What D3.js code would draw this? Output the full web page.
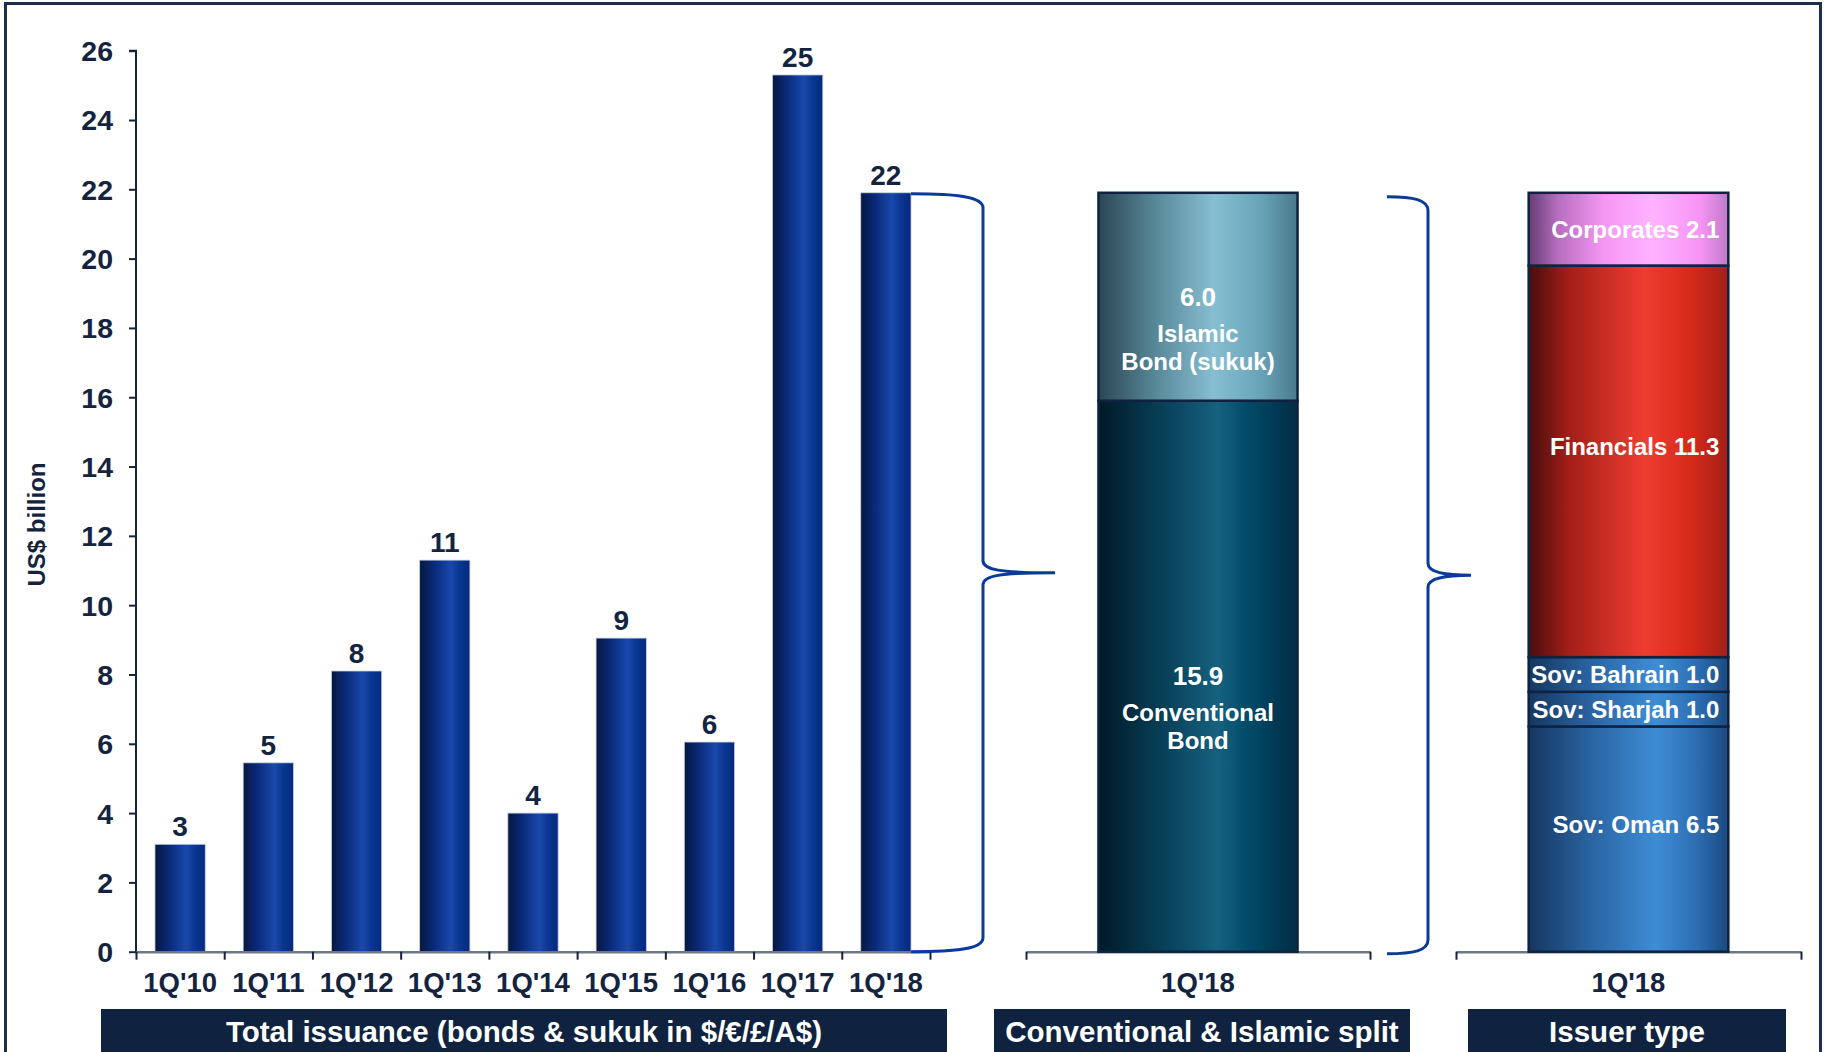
<!DOCTYPE html>
<html>
<head>
<meta charset="utf-8">
<script src="https://cdn.jsdelivr.net/npm/d3@7"></script>
<style>
  html, body { margin: 0; padding: 0; background: #ffffff; }
  svg { display: block; }
  text { font-family: "Liberation Sans", Arial, sans-serif; font-weight: bold; }
</style>
</head>
<body>
<svg id="chart" width="1825" height="1052"></svg>
<script>
// ---- data -------------------------------------------------------------
const quarters = ["1Q'10", "1Q'11", "1Q'12", "1Q'13", "1Q'14", "1Q'15", "1Q'16", "1Q'17", "1Q'18"];
const totalIssuance = [3.1, 5.45, 8.1, 11.3, 4.0, 9.05, 6.05, 25.3, 21.9];

const latestQuarter = ["1Q'18"];

const splitNames = [["Conventional", "Bond"], ["Islamic", "Bond (sukuk)"]];
const splitValues = [15.9, 6.0];
const splitKeys = ["conv", "islamic"];

const issuerNames = ["Sov: Oman", "Sov: Sharjah", "Sov: Bahrain", "Financials", "Corporates"];
const issuerValues = [6.5, 1.0, 1.0, 11.3, 2.1];
const issuerKeys = ["sov", "sov", "sov", "fin", "corp"];

const yTicks = [0, 2, 4, 6, 8, 10, 12, 14, 16, 18, 20, 22, 24, 26];

const panelTitles = ["Total issuance (bonds & sukuk in $/€/£/A$)", "Conventional & Islamic split", "Issuer type"];
const yTitle = "US$ billion";

// ---- setup ------------------------------------------------------------
const svg = d3.select("#chart");
const ink = "#14243f";
const navy = "#0f2340";
const braceBlue = "#0a3a9a";

// outer frame
svg.append("rect")
  .attr("x", 5.5).attr("y", 3.5).attr("width", 1815).attr("height", 1070)
  .attr("fill", "none").attr("stroke", "#1c2d4d").attr("stroke-width", 3);

// horizontal gradients giving the bars their cylindrical shading
const defs = svg.append("defs");
function gradient(id, stops) {
  const g = defs.append("linearGradient").attr("id", id)
    .attr("x1", "0%").attr("x2", "100%").attr("y1", "0%").attr("y2", "0%");
  stops.forEach(([o, c]) => g.append("stop").attr("offset", o).attr("stop-color", c));
}
gradient("g-total", [["0%", "#07183f"], ["30%", "#0a2b7c"], ["62%", "#1849ab"], ["78%", "#0b3894"], ["100%", "#042a7c"]]);
gradient("g-conv", [["0%", "#001a28"], ["38%", "#0a465f"], ["60%", "#16617f"], ["76%", "#004a68"], ["100%", "#022c44"]]);
gradient("g-islamic", [["0%", "#2c4653"], ["30%", "#5a8b9b"], ["58%", "#86bed1"], ["80%", "#6aa6bb"], ["100%", "#4a7a8b"]]);
gradient("g-corp", [["0%", "#663c72"], ["15%", "#b86fc0"], ["38%", "#f597f5"], ["62%", "#ffb3ff"], ["86%", "#f594f5"], ["100%", "#c07ac6"]]);
gradient("g-fin", [["0%", "#480d0d"], ["20%", "#a11f18"], ["58%", "#ee3d31"], ["80%", "#d82a1a"], ["100%", "#a32018"]]);
gradient("g-sov", [["0%", "#15375f"], ["30%", "#2a62a0"], ["64%", "#3e8dd5"], ["85%", "#2c6cb0"], ["100%", "#1a4a80"]]);

// shared value scale for all three panels
const y = d3.scaleLinear().domain([0, 26]).range([951.7, 50.7]);

// ---- panel 1: total issuance -----------------------------------------
const x1 = d3.scaleBand().domain(quarters).range([136, 930]).paddingInner(0.43).paddingOuter(0.215);

const yAxis = svg.append("g").attr("transform", "translate(136,0)")
  .call(d3.axisLeft(y).tickValues(yTicks).tickSize(7).tickPadding(16));
yAxis.select(".domain").attr("stroke", ink).attr("stroke-width", 2).attr("d", `M-7,${y(26)}H0V${y(0)}`);
yAxis.selectAll(".tick line").attr("stroke", ink).attr("stroke-width", 2);
yAxis.selectAll(".tick text").attr("fill", ink).style("font-size", "28.5px").attr("dy", "0.35em");

svg.append("text")
  .attr("transform", "translate(45,524.5) rotate(-90)")
  .attr("text-anchor", "middle").attr("fill", ink).style("font-size", "24px")
  .text(yTitle);

svg.append("g").selectAll("rect").data(quarters).join("rect")
  .attr("x", d => x1(d)).attr("width", x1.bandwidth())
  .attr("y", (d, i) => y(totalIssuance[i]))
  .attr("height", (d, i) => y(0) - y(totalIssuance[i]))
  .attr("fill", "url(#g-total)")
  .attr("stroke", "#c8d0dc").attr("stroke-width", 0.8);

svg.append("g").selectAll("text").data(quarters).join("text")
  .attr("x", d => x1(d) + x1.bandwidth() / 2)
  .attr("y", (d, i) => y(totalIssuance[i]) - 8)
  .attr("text-anchor", "middle").attr("fill", ink).style("font-size", "28px")
  .text((d, i) => d3.format(".0f")(totalIssuance[i]));

// category axis: labels at band centres, tick marks at band boundaries
function categoryAxis(scale, x0, x1end) {
  const g = svg.append("g").attr("transform", `translate(0,${y(0)})`);
  const edges = d3.scaleLinear().domain([0, scale.domain().length]).range([x0, x1end]);
  const ticks = g.append("g").call(d3.axisBottom(edges)
    .tickValues(d3.range(scale.domain().length + 1)).tickFormat("").tickSize(8).tickSizeOuter(0));
  ticks.select(".domain").attr("stroke", "#6f7787").attr("stroke-width", 2.5);
  ticks.selectAll(".tick line").attr("stroke", ink).attr("stroke-width", 2);
  const labels = g.append("g").call(d3.axisBottom(scale).tickSize(0).tickPadding(21));
  labels.select(".domain").remove();
  labels.selectAll(".tick text").attr("fill", ink).style("font-size", "27.5px");
}
categoryAxis(x1, 136, 930);

// ---- panel 2: conventional vs islamic split ---------------------------
const x2 = d3.scaleBand().domain(latestQuarter).range([1026, 1370]).paddingInner(0).paddingOuter(0.364);
const x3 = d3.scaleBand().domain(latestQuarter).range([1456, 1801]).paddingInner(0).paddingOuter(0.364);

function stackedBar(scale, values, keys) {
  const starts = d3.cumsum([0].concat(values.slice(0, -1)));
  const segs = values.map((v, i) => ({ v, i, y0: starts[i], y1: starts[i] + v, key: keys[i] }));
  const g = svg.append("g");
  g.selectAll("rect").data(segs).join("rect")
    .attr("x", scale(latestQuarter[0])).attr("width", scale.bandwidth())
    .attr("y", d => y(d.y1)).attr("height", d => y(d.y0) - y(d.y1))
    .attr("fill", d => `url(#g-${d.key})`)
    .attr("stroke", navy).attr("stroke-width", 2.5);
  return segs;
}

categoryAxis(x2, 1026, 1370);
const splitSegs = stackedBar(x2, splitValues, splitKeys);
const splitCx = x2(latestQuarter[0]) + x2.bandwidth() / 2;
splitSegs.forEach(d => {
  const my = (y(d.y0) + y(d.y1)) / 2;
  const t = svg.append("text").attr("text-anchor", "middle").attr("fill", "#ffffff");
  t.append("tspan").attr("x", splitCx).attr("y", my + 9).style("font-size", "26px")
    .text(d3.format(".1f")(d.v));
  splitNames[d.i].forEach((line, k) => {
    t.append("tspan").attr("x", splitCx).attr("y", my + 45 + k * 28).style("font-size", "24px").text(line);
  });
});

// ---- panel 3: issuer type ---------------------------------------------
categoryAxis(x3, 1456, 1801);
const issuerSegs = stackedBar(x3, issuerValues, issuerKeys);
const issuerRight = x3(latestQuarter[0]) + x3.bandwidth() - 9;
svg.append("g").selectAll("text").data(issuerSegs).join("text")
  .attr("x", issuerRight)
  .attr("y", d => {
    const h = y(d.y0) - y(d.y1);
    const my = (y(d.y0) + y(d.y1)) / 2;
    return (h > 100 ? my - 15 : my) + 8.5;
  })
  .attr("text-anchor", "end").attr("fill", "#ffffff").style("font-size", "24px")
  .text(d => `${issuerNames[d.i]} ${d3.format(".1f")(d.v)}`);

// ---- braces linking the panels ----------------------------------------
function brace(x0, spine, tip, yTop, yBot) {
  const mid = (yTop + yBot) / 2;
  const p = d3.path();
  p.moveTo(x0, yTop);
  p.bezierCurveTo(x0 + (spine - x0) * 0.65, yTop, spine, yTop + 3, spine, yTop + 14);
  p.lineTo(spine, mid - 12);
  p.bezierCurveTo(spine, mid - 3, spine + 16, mid, tip, mid);
  p.bezierCurveTo(spine + 16, mid, spine, mid + 3, spine, mid + 12);
  p.lineTo(spine, yBot - 14);
  p.bezierCurveTo(spine, yBot - 3, x0 + (spine - x0) * 0.65, yBot, x0, yBot);
  svg.append("path").attr("d", p.toString())
    .attr("fill", "none").attr("stroke", braceBlue).attr("stroke-width", 3);
}
const lastBarRight = x1(quarters[8]) + x1.bandwidth();
brace(lastBarRight, 983, 1055, y(totalIssuance[8]) + 1, y(0));
brace(1387, 1428, 1471, y(d3.sum(splitValues)) + 4, y(0) + 2);

// ---- panel title banners ----------------------------------------------
const banners = [[101, 947], [994, 1410], [1468, 1786]];
banners.forEach(([a, b], i) => {
  svg.append("rect").attr("x", a).attr("y", 1009).attr("width", b - a).attr("height", 60).attr("fill", navy);
  svg.append("text").attr("x", (a + b) / 2).attr("y", 1042)
    .attr("text-anchor", "middle").attr("fill", "#ffffff").style("font-size", "29.5px")
    .text(panelTitles[i]);
});
</script>
</body>
</html>
